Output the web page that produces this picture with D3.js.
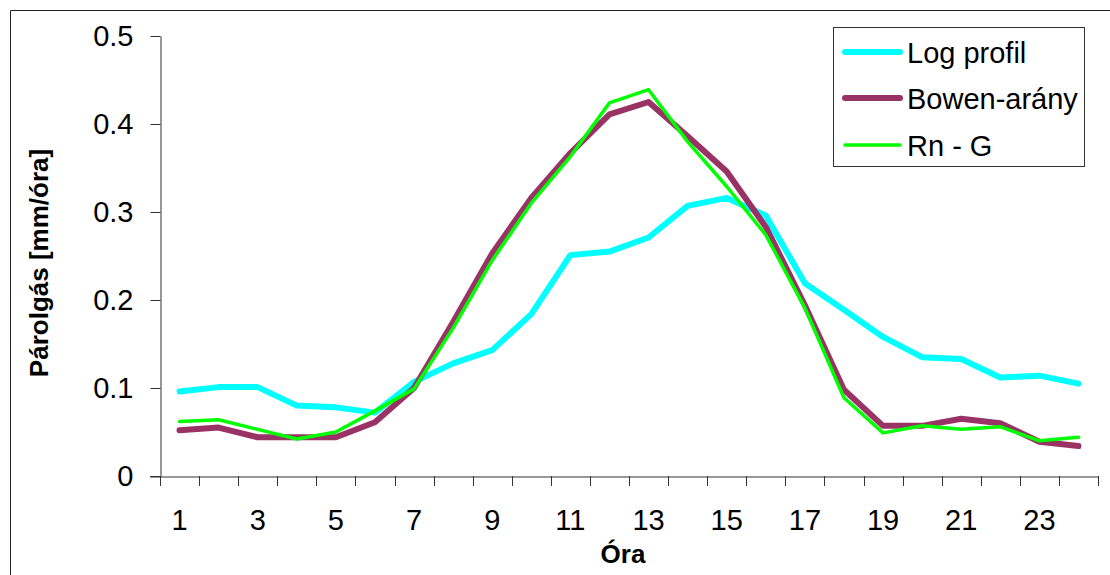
<!DOCTYPE html>
<html><head><meta charset="utf-8">
<script src="https://cdn.jsdelivr.net/npm/d3@7/dist/d3.min.js"></script>
<style>
html,body{margin:0;padding:0;background:#fff;}
svg{display:block;font-family:"Liberation Sans",Arial,sans-serif;}
</style></head>
<body>
<svg id="c" width="1110" height="575"></svg>
<script>
const hours = d3.range(1, 25);
const xTickLabels = [1,3,5,7,9,11,13,15,17,19,21,23];
const yTicks = [0, 0.1, 0.2, 0.3, 0.4, 0.5];
const logProfil = [0.096,0.101,0.101,0.080,0.078,0.072,0.107,0.128,0.143,0.184,0.251,0.255,0.271,0.307,0.316,0.296,0.219,0.189,0.158,0.135,0.133,0.112,0.114,0.105];
const bowen = [0.052,0.055,0.044,0.044,0.044,0.061,0.100,0.175,0.253,0.316,0.367,0.411,0.425,0.386,0.346,0.283,0.194,0.098,0.057,0.057,0.065,0.060,0.039,0.034];
const rnG = [0.062,0.064,0.053,0.042,0.050,0.074,0.099,0.168,0.245,0.310,0.363,0.424,0.439,0.380,0.329,0.274,0.191,0.089,0.049,0.057,0.053,0.056,0.040,0.044];
const seriesNames = ["Log profil","Bowen-arány","Rn - G"];
const seriesColors = ["#00FFFF","#993366","#00FF00"];
const seriesWidths = [6,6,3.5];
const series = [logProfil, bowen, rnG];

const svg = d3.select("#c");
// outer frame
svg.append("path").attr("d","M10.5,575 L10.5,10.5 L1110,10.5").attr("fill","none").attr("stroke","#222").attr("stroke-width",1);

const x = d3.scaleBand().domain(hours).range([160,1098]);
const y = d3.scaleLinear().domain([0,0.5]).range([476,36]);

// y axis
const yAxis = svg.append("g").attr("transform","translate(160.5,0)")
  .call(d3.axisLeft(y).tickValues(yTicks).tickSize(10).tickSizeOuter(0).tickFormat(d=>d===0?"0":d3.format(".1f")(d)).tickPadding(17));
yAxis.selectAll("line,path").attr("stroke","#333");
yAxis.selectAll("text").attr("font-size",29).attr("fill","#000").attr("font-family","Liberation Sans, Arial, sans-serif");

// x axis
const xAxis = svg.append("g").attr("transform","translate(0,476.5)")
  .call(d3.axisBottom(x).tickSize(0).tickSizeOuter(0).tickFormat(d=>xTickLabels.includes(d)?d:"").tickPadding(33));
xAxis.select("path").attr("d","M150,0.5H1098").attr("stroke","#333");
xAxis.selectAll("text").attr("font-size",29).attr("fill","#000").attr("font-family","Liberation Sans, Arial, sans-serif");
// category boundary ticks
const bounds = hours.map(h=>x(h)).concat([x(24)+x.bandwidth()]);
svg.append("g").selectAll("line").data(bounds).join("line")
  .attr("x1",d=>Math.round(d)+0.5).attr("x2",d=>Math.round(d)+0.5)
  .attr("y1",476).attr("y2",486).attr("stroke","#333");

// lines
const line = d3.line().x((d,i)=>x(hours[i])+x.bandwidth()/2).y(d=>y(d));
series.forEach((s,k)=>{
  svg.append("path").datum(s).attr("d",line).attr("fill","none")
    .attr("stroke",seriesColors[k]).attr("stroke-width",seriesWidths[k])
    .attr("stroke-linejoin","round").attr("stroke-linecap","round");
});

// axis titles
svg.append("text").attr("x",623).attr("y",563).attr("text-anchor","middle")
  .attr("font-size",26).attr("font-weight","bold").text("Óra");
svg.append("text").attr("transform","translate(48,263) rotate(-90)").attr("text-anchor","middle")
  .attr("font-size",26).attr("font-weight","bold").text("Párolgás [mm/óra]");

// legend
const lg = svg.append("g");
lg.append("rect").attr("x",833.5).attr("y",27.5).attr("width",251).attr("height",139)
  .attr("fill","#fff").attr("stroke","#333").attr("stroke-width",1);
const rowY = [52,98,145];
seriesNames.forEach((n,k)=>{
  lg.append("line").attr("x1",845).attr("x2",900).attr("y1",rowY[k]).attr("y2",rowY[k])
    .attr("stroke",seriesColors[k]).attr("stroke-width",seriesWidths[k]).attr("stroke-linecap","round");
  lg.append("text").attr("x",907).attr("y",rowY[k]+11).attr("font-size",29).text(n);
});
</script>
</body></html>
